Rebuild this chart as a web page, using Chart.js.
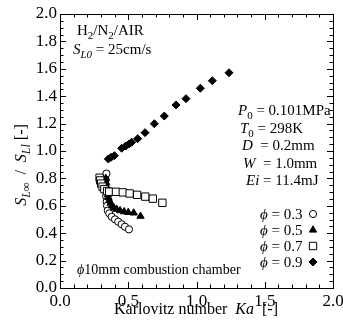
<!DOCTYPE html>
<html><head><meta charset="utf-8">
<script src="https://cdn.jsdelivr.net/npm/chart.js@4.4.0/dist/chart.umd.min.js"></script>
<style>html,body{margin:0;padding:0;background:#fff}</style>
</head><body>
<canvas id="c" width="343" height="327" style="width:343px;height:327px;display:block"></canvas>
<script>
// ---- data ----
const phi03Ka = [0.340, 0.335, 0.333, 0.335, 0.338, 0.342, 0.345, 0.350, 0.361, 0.379, 0.403, 0.427, 0.452, 0.476, 0.505];
const phi03S  = [0.835, 0.790, 0.750, 0.710, 0.670, 0.630, 0.600, 0.565, 0.545, 0.520, 0.501, 0.484, 0.465, 0.447, 0.428];
const phi05Ka = [0.335, 0.338, 0.340, 0.345, 0.350, 0.355, 0.362, 0.370, 0.380, 0.395, 0.415, 0.440, 0.470, 0.500, 0.540, 0.590];
const phi05S  = [0.800, 0.770, 0.740, 0.710, 0.680, 0.660, 0.640, 0.620, 0.600, 0.585, 0.575, 0.565, 0.557, 0.552, 0.548, 0.524];
const phi07Ka = [0.290, 0.295, 0.302, 0.312, 0.325, 0.345, 0.360, 0.410, 0.460, 0.510, 0.565, 0.625, 0.680, 0.750];
const phi07S  = [0.805, 0.785, 0.762, 0.740, 0.722, 0.708, 0.703, 0.702, 0.698, 0.690, 0.680, 0.667, 0.652, 0.622];
const phi09Ka = [0.354, 0.374, 0.398, 0.452, 0.481, 0.505, 0.525, 0.569, 0.623, 0.691, 0.764, 0.850, 0.923, 1.028, 1.116, 1.238];
const phi09S  = [0.942, 0.954, 0.966, 1.020, 1.036, 1.051, 1.064, 1.090, 1.134, 1.199, 1.255, 1.336, 1.382, 1.458, 1.513, 1.571];
const seriesNames = ['0.3', '0.5', '0.7', '0.9'];
const xTickLabels = ['0.0', '0.5', '1.0', '1.5', '2.0'];
const yTickLabels = ['0.0', '0.2', '0.4', '0.6', '0.8', '1.0', '1.2', '1.4', '1.6', '1.8', '2.0'];

const SERIF = '"Liberation Serif", "Times New Roman", serif';
const PHI = '\u03D5';
const pts = (xs, ys) => xs.map((x, i) => ({x, y: ys[i]}));

const styles = [
  {pointStyle: 'circle',   radius: 3.6, bg: '#fff', order: 2},
  {pointStyle: 'triangle', radius: 4.2, bg: '#000', order: 1},
  {pointStyle: 'rect',     radius: 5.2, bg: '#fff', order: 0},
  {pointStyle: 'rectRot',  radius: 4.0, bg: '#000', order: 3},
];
const seriesData = [pts(phi03Ka, phi03S), pts(phi05Ka, phi05S), pts(phi07Ka, phi07S), pts(phi09Ka, phi09S)];

const datasets = seriesData.map((d, i) => ({
  label: PHI + ' = ' + seriesNames[i],
  data: d,
  showLine: false,
  pointStyle: styles[i].pointStyle,
  pointRadius: styles[i].radius,
  pointBackgroundColor: styles[i].bg,
  pointBorderColor: '#000',
  pointBorderWidth: 1,
  order: styles[i].order
}));

// draw text made of segments {t, it, sub}
function richText(ctx, segs, x, y, size, align) {
  const sub = Math.round(size * 0.72);
  const fontOf = s => (s.it ? 'italic ' : '') + (s.sub ? sub : size) + 'px ' + SERIF;
  let w = 0;
  segs.forEach(s => { ctx.font = fontOf(s); w += ctx.measureText(s.t).width; });
  let cx = align === 'center' ? x - w / 2 : (align === 'right' ? x - w : x);
  ctx.textBaseline = 'alphabetic';
  ctx.textAlign = 'left';
  segs.forEach(s => {
    ctx.font = fontOf(s);
    ctx.fillText(s.t, cx, y + (s.sub ? size * 0.28 : 0));
    cx += ctx.measureText(s.t).width;
  });
}

function drawMarker(ctx, ds, x, y) {
  ctx.save();
  ctx.fillStyle = ds.pointBackgroundColor;
  ctx.strokeStyle = '#000';
  ctx.lineWidth = 1;
  Chart.helpers.drawPoint(ctx, {pointStyle: ds.pointStyle, radius: ds.pointRadius, borderWidth: 1}, x, y);
  ctx.restore();
}

const decor = {
  id: 'decor',
  afterDraw(chart) {
    const ctx = chart.ctx, a = chart.chartArea;
    const xs = chart.scales.x, ys = chart.scales.y;
    ctx.save();
    ctx.strokeStyle = '#000';
    ctx.fillStyle = '#000';
    ctx.lineWidth = 1;
    ctx.strokeRect(Math.round(a.left) + 0.5, Math.round(a.top) + 0.5, Math.round(a.right - a.left), Math.round(a.bottom - a.top));
    ctx.beginPath();
    for (let i = 0; i <= 20; i++) {
      const px = Math.round(xs.getPixelForValue(i / 10)) + 0.5;
      const len = i % 5 === 0 ? 6 : 3.5;
      ctx.moveTo(px, a.bottom); ctx.lineTo(px, a.bottom - len);
      ctx.moveTo(px, a.top); ctx.lineTo(px, a.top + len);
    }
    for (let i = 0; i <= 40; i++) {
      const py = Math.round(ys.getPixelForValue(i / 20)) + 0.5;
      const len = i % 4 === 0 ? 6 : 3.5;
      ctx.moveTo(a.left, py); ctx.lineTo(a.left + len, py);
      ctx.moveTo(a.right, py); ctx.lineTo(a.right - len, py);
    }
    ctx.stroke();

    // annotations
    richText(ctx, [{t: 'H'}, {t: '2', sub: 1}, {t: '/N'}, {t: '2', sub: 1}, {t: '/AIR'}], a.left + 17, 35, 15, 'left');
    richText(ctx, [{t: 'S', it: 1}, {t: 'L0', it: 1, sub: 1}, {t: ' = 25cm/s'}], a.left + 13, 54, 15, 'left');

    const rx = a.left + 178;
    richText(ctx, [{t: 'P', it: 1}, {t: '0', sub: 1}, {t: ' = 0.101MPa'}], rx, 115, 15, 'left');
    richText(ctx, [{t: 'T', it: 1}, {t: '0', sub: 1}, {t: ' = 298K'}], rx + 2, 133, 15, 'left');
    richText(ctx, [{t: 'D', it: 1}, {t: '  = 0.2mm'}], rx + 4, 150, 15, 'left');
    richText(ctx, [{t: 'W', it: 1}, {t: '  = 1.0mm'}], rx + 5, 168, 15, 'left');
    richText(ctx, [{t: 'Ei', it: 1}, {t: ' = 11.4mJ'}], rx + 8, 185, 15, 'left');

    // legend
    const ly = [214, 230, 246, 262];
    chart.data.datasets.forEach((ds, i) => {
      ctx.fillStyle = '#000';
      richText(ctx, [{t: PHI, it: 1}, {t: ' = ' + seriesNames[i]}], a.left + 200, ly[i] + 5, 15, 'left');
      drawMarker(ctx, ds, a.left + 253, ly[i]);
    });

    ctx.fillStyle = '#000';
    richText(ctx, [{t: PHI, it: 1}, {t: '10mm combustion chamber'}], a.left + 17, 274, 14, 'left');

    // axis titles
    richText(ctx, [{t: 'Karlovitz number  '}, {t: 'Ka', it: 1}, {t: '  [-]'}], 196, 314, 16, 'center');
    ctx.save();
    ctx.translate(26, 165);
    ctx.rotate(-Math.PI / 2);
    richText(ctx, [{t: 'S', it: 1}, {t: 'L∞', it: 1, sub: 1}, {t: '  /  '}, {t: 'S', it: 1}, {t: 'Ll', it: 1, sub: 1}, {t: ' [-]'}], 0, 0, 16, 'center');
    ctx.restore();
    ctx.restore();
  }
};

new Chart(document.getElementById('c'), {
  type: 'scatter',
  data: {datasets},
  options: {
    responsive: false,
    animation: false,
    devicePixelRatio: 1,
    layout: {padding: {top: 14, right: 10, left: 0, bottom: 0}},
    plugins: {legend: {display: false}, tooltip: {enabled: false}},
    scales: {
      x: {
        type: 'linear', min: 0, max: 2,
        grid: {display: false, drawTicks: false},
        border: {display: false},
        afterBuildTicks: s => { s.ticks = xTickLabels.map(t => ({value: parseFloat(t)})); },
        afterFit: s => { s.height = 39; s.paddingLeft = 0; s.paddingRight = 0; },
        ticks: {color: '#000', padding: 3, maxRotation: 0, autoSkip: false,
          font: {family: SERIF, size: 17},
          callback: (v) => xTickLabels.find(t => parseFloat(t) === v)}
      },
      y: {
        type: 'linear', min: 0, max: 2,
        grid: {display: false, drawTicks: false},
        border: {display: false},
        afterBuildTicks: s => { s.ticks = yTickLabels.map(t => ({value: parseFloat(t)})); },
        afterFit: s => { s.width = 60; s.paddingTop = 0; s.paddingBottom = 0; },
        ticks: {color: '#000', padding: 3, autoSkip: false,
          font: {family: SERIF, size: 17},
          callback: (v) => yTickLabels.find(t => parseFloat(t) === v)}
      }
    }
  },
  plugins: [decor]
});
</script>
</body></html>
